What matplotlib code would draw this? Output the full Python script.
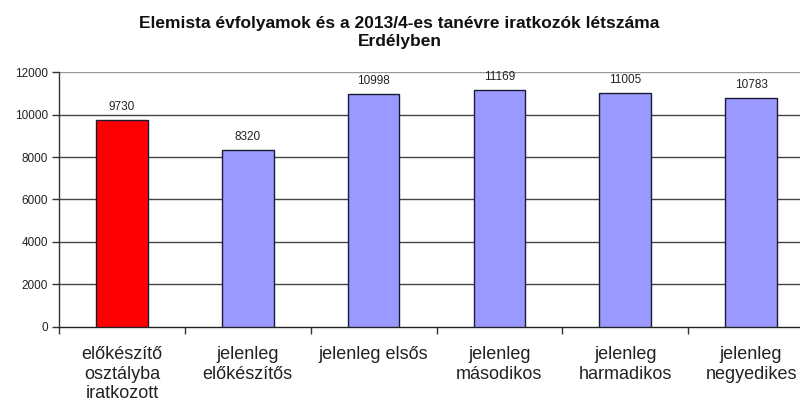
import matplotlib
matplotlib.use("Agg")
import matplotlib.pyplot as plt
import numpy as np

categories = ["előkészítő\nosztályba\niratkozott", "jelenleg\nelőkészítős", "jelenleg elsős",
              "jelenleg\nmásodikos", "jelenleg\nharmadikos", "jelenleg\nnegyedikes"]
values = [9730, 8320, 10998, 11169, 11005, 10783]
colors = ["#FF0000", "#9999FF", "#9999FF", "#9999FF", "#9999FF", "#9999FF"]
yticks = [0, 2000, 4000, 6000, 8000, 10000, 12000]
title = "Elemista évfolyamok és a 2013/4-es tanévre iratkozók létszáma\nErdélyben"

plt.rcParams['font.family'] = ['Liberation Sans', 'DejaVu Sans']

fig = plt.figure(figsize=(8.0, 4.01), dpi=100)
ax = fig.add_axes([59/800, 1 - 326.7/401, (814-59)/800, (326.7-72.3)/401])

x = np.arange(len(categories))
ax.bar(x, values, width=0.41, color=colors, edgecolor="#1a1a33", linewidth=1.0, zorder=3)
for xi, v in zip(x, values):
    ax.annotate(str(v), (xi, v), xytext=(0, 5), textcoords="offset points",
                ha="center", va="bottom", fontsize=8.5, color="#222222")

ax.set_xlim(-0.5, len(categories) - 0.5)
ax.set_ylim(0, 12000)
ax.set_yticks(yticks)
ax.set_yticklabels([str(t) for t in yticks], fontsize=8.5, color="#222222")
for t in yticks[1:-1]:
    ax.axhline(t, color="#444444", linewidth=1.0, zorder=1)

ax.set_xticks(x)
ax.set_xticklabels(categories, fontsize=13, color="#222222", linespacing=1.2)
ax.set_xticks(np.arange(-0.5, len(categories)), minor=True)
ax.tick_params(axis="x", which="major", length=0, pad=14)
ax.tick_params(axis="x", which="minor", length=5, width=1, color="#333333", direction="out")
ax.tick_params(axis="y", length=5, width=1, color="#333333", direction="out", pad=3)

for s in ["top", "right"]:
    ax.spines[s].set_visible(False)
ax.axhline(12000, color="#999999", linewidth=1.0, zorder=1)
ax.spines["left"].set_color("#333333")
ax.spines["bottom"].set_color("#222222")
ax.spines["left"].set_linewidth(1.0)
ax.spines["bottom"].set_linewidth(1.0)

fig.text(0.4995, 1 - 32.5/401, title, ha="center", va="center", fontsize=12.5, fontweight="bold",
         linespacing=1.2, color="#111111")

fig.savefig("out.png", dpi=100)
